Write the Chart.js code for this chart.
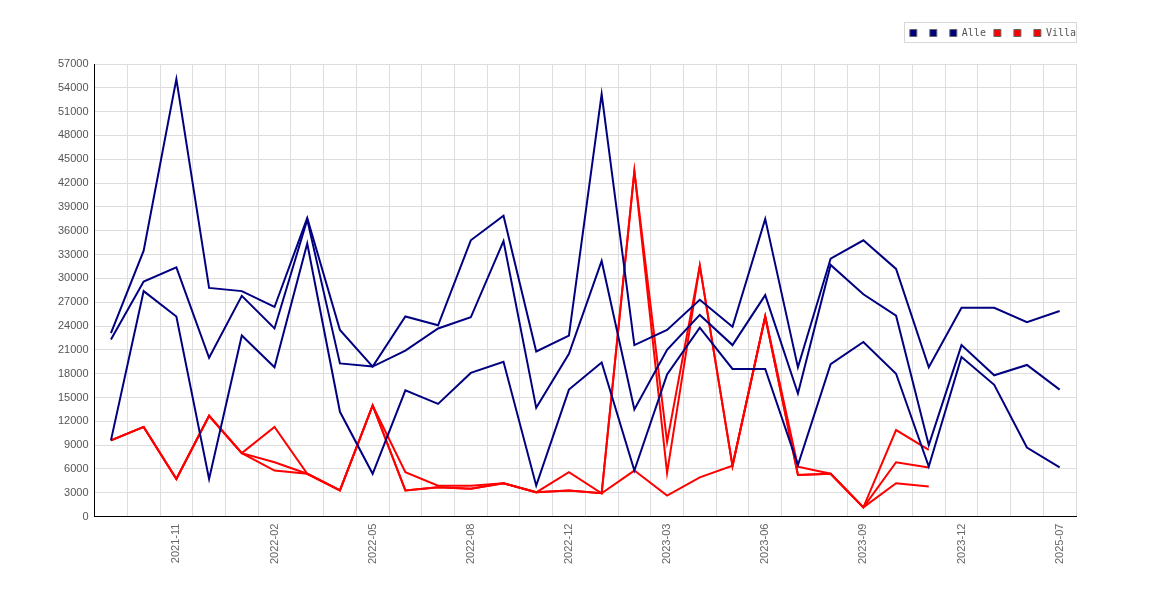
<!DOCTYPE html>
<html>
<head>
    <meta charset="UTF-8">
    <title>Alle / Villa</title>
    <script src="https://cdn.jsdelivr.net/npm/chart.js"></script>
    <style>
        body { margin: 0; background: #fff; }
        #wrap { width: 1170px; height: 600px; }
    </style>
</head>
<body>
    <div id="wrap"><canvas id="priceChart"></canvas></div>

    <script>
        var months = ['2021-09', '2021-10', '2021-11', '2021-12', '2022-01', '2022-02', '2022-03', '2022-04',
            '2022-05', '2022-06', '2022-07', '2022-08', '2022-09', '2022-10', '2022-12', '2023-01',
            '2023-02', '2023-03', '2023-04', '2023-05', '2023-06', '2023-07', '2023-08', '2023-09',
            '2023-10', '2023-11', '2023-12', '2024-01', '2025-06', '2025-07'];

        var alleMax = [23100, 33500, 55100, 28800, 28400, 26400, 37600, 23500, 18900, 25200,
            24100, 34800, 37900, 20800, 22800, 53200, 21600, 23500, 27300, 23900,
            37500, 18800, 32500, 34800, 31200, 18800, 26300, 26300, 24500, 25900];
        var alleMid = [22300, 29600, 31400, 20000, 27800, 23700, 37400, 19300, 18900, 20900,
            23700, 25100, 34700, 13700, 20500, 32200, 13500, 21000, 25400, 21600,
            27900, 15500, 31700, 28000, 25300, 9000, 21600, 17800, 19100, 16000];
        var alleMin = [9600, 28400, 25200, 4750, 22800, 18800, 34400, 13200, 5400, 15900,
            14200, 18100, 19500, 3900, 16000, 19400, 5800, 17900, 23800, 18600,
            18600, 6500, 19200, 22000, 18000, 6300, 20100, 16600, 8700, 6200];

        var villaMax = [9600, 11300, 4750, 12700, 8000, 11300, 5400, 3300, 14000, 5600,
            3900, 3900, 4200, 3060, 5600, 2940, 43500, 9400, 31600, 6400,
            25200, 6300, 5400, 1170, 10900, 8400, null, null, null, null];
        var villaMid = [9600, 11300, 4750, 12700, 8000, 6850, 5400, 3300, 14000, 3300,
            3700, 3500, 4200, 3060, 3300, 2940, 43500, 5500, 31600, 6400,
            25200, 5250, 5400, 1170, 6850, 6200, null, null, null, null];
        var villaMin = [9600, 11300, 4750, 12700, 8000, 5800, 5400, 3300, 14000, 3300,
            3700, 3500, 4200, 3060, 3300, 2940, 5800, 2650, 4950, 6400,
            25200, 5250, 5400, 1170, 4200, 3800, null, null, null, null];

        var navy = '#000080';
        var red = '#ff0000';

        function line(label, data, color) {
            return {
                label: label,
                data: data,
                borderColor: color,
                backgroundColor: color,
                borderWidth: 2,
                pointRadius: 0,
                tension: 0,
                fill: false
            };
        }

        // thin grey frame around the legend, plus some room below it
        var legendFrame = {
            id: 'legendFrame',
            afterInit: function (chart) {
                var fit = chart.legend.fit;
                chart.legend.fit = function () {
                    fit.bind(chart.legend)();
                    this.height += 16;
                };
            },
            afterDraw: function (chart) {
                var boxes = chart.legend.legendHitBoxes;
                if (!boxes || !boxes.length) return;
                var left = boxes[0].left - 6;
                var top = boxes[0].top - 6;
                var last = boxes[boxes.length - 1];
                var right = last.left + last.width;
                var ctx = chart.ctx;
                ctx.save();
                ctx.strokeStyle = '#d8d8d8';
                ctx.lineWidth = 1;
                ctx.strokeRect(Math.round(left) + 0.5, Math.round(top) + 0.5,
                    Math.round(right - left), Math.round(last.height + 10));
                ctx.restore();
            }
        };

        var ctx = document.getElementById('priceChart').getContext('2d');
        var priceChart = new Chart(ctx, {
            type: 'line',
            data: {
                labels: months,
                datasets: [
                    line('', alleMax, navy),
                    line('', alleMid, navy),
                    line('Alle', alleMin, navy),
                    line('', villaMax, red),
                    line('', villaMid, red),
                    line('Villa', villaMin, red)
                ]
            },
            options: {
                responsive: true,
                maintainAspectRatio: false,
                animation: false,
                layout: { padding: { left: 52, right: 86, top: 20, bottom: 29 } },
                plugins: {
                    tooltip: { enabled: false },
                    legend: {
                        position: 'top',
                        align: 'end',
                        labels: {
                            boxWidth: 7,
                            boxHeight: 7,
                            padding: 8,
                            color: '#555',
                            font: { family: 'DejaVu Sans Mono', size: 10 },
                            generateLabels: function (chart) {
                                return chart.data.datasets.map(function (ds, i) {
                                    return {
                                        text: ds.label,
                                        fillStyle: ds.borderColor,
                                        strokeStyle: '#666',
                                        lineWidth: 1,
                                        fontColor: '#555',
                                        datasetIndex: i
                                    };
                                });
                            }
                        }
                    }
                },
                scales: {
                    x: {
                        offset: true,
                        grid: { offset: true, color: '#dddddd', drawTicks: false },
                        border: { color: '#000', width: 1 },
                        ticks: {
                            autoSkip: false,
                            maxRotation: 90,
                            minRotation: 90,
                            padding: 7,
                            color: '#666',
                            font: { family: 'Liberation Sans', size: 11 },
                            callback: function (value, index) {
                                return index % 3 === 2 ? this.getLabelForValue(value) : '';
                            }
                        }
                    },
                    y: {
                        min: 0,
                        max: 57000,
                        grid: { color: '#dddddd', drawTicks: false },
                        border: { color: '#000', width: 1 },
                        ticks: {
                            stepSize: 3000,
                            padding: 6,
                            color: '#555',
                            font: { family: 'Liberation Sans', size: 11 },
                            callback: function (value) { return value; }
                        }
                    },
                    // empty strip on the right so the legend can sit past the plot edge
                    spacer: {
                        type: 'linear',
                        position: 'right',
                        display: true,
                        grid: { display: false, drawOnChartArea: false },
                        border: { display: false },
                        ticks: { display: false },
                        afterFit: function (scale) { scale.width = 8; }
                    }
                }
            },
            plugins: [legendFrame]
        });
    </script>
</body>
</html>
